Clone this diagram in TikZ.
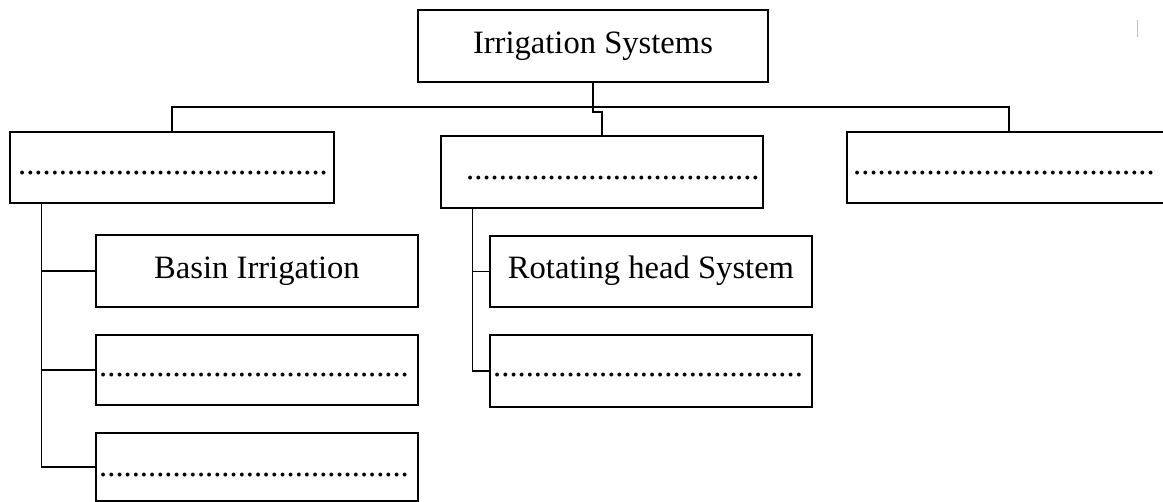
\documentclass[tikz,border=0pt]{standalone}
\usepackage{fontspec}
\setmainfont{Liberation Serif}
\newcommand\dotrow[1]{\foreach \i in {1,...,#1}{.}}
\begin{document}
\begin{tikzpicture}[x=1pt,y=-1pt,
  box/.style={draw, line width=1.8pt, inner sep=0pt,
    font=\fontsize{32.6}{39}\selectfont, text height=22.8pt, text depth=8.2pt},
  conn/.style={line width=1.2pt},
  dotline/.style={anchor=base west, inner sep=0pt, font=\fontsize{32.6}{39}\selectfont}]
\useasboundingbox (0,0) rectangle (1163,502);
\clip (0,0) rectangle (1163,502);
% boxes
\node[box, minimum width=350pt, minimum height=72pt] (T)  at (593,46)    {Irrigation Systems};
\node[box, minimum width=324pt, minimum height=71pt] (L)  at (172,167.5) {};
\node[box, minimum width=322pt, minimum height=72pt] (M)  at (602,172)   {};
\node[box, minimum width=324pt, minimum height=71pt] (R)  at (1009,167.5) {};
\node[box, minimum width=322pt, minimum height=72pt] (L1) at (257,271)   {Basin Irrigation};
\node[box, minimum width=322pt, minimum height=70pt] (L2) at (257,370)   {};
\node[box, minimum width=322pt, minimum height=68pt] (L3) at (257,467)   {};
\node[box, minimum width=322pt, minimum height=71pt] (M1) at (651,271.5) {Rotating head System};
\node[box, minimum width=322pt, minimum height=72pt] (M2) at (651,371)   {};
% dotted placeholders
\node[dotline] (Ld)  at (18,174.5)  {\dotrow{38}};
\node[dotline] (Md)  at (466,179.5) {\dotrow{36}};
\node[dotline] (Rd)  at (853,175)   {\dotrow{37}};
\node[dotline] (L2d) at (99,376.5)  {\dotrow{38}};
\node[dotline] (L3d) at (99,476.5)  {\dotrow{38}};
\node[dotline] (M2d) at (493,376.5) {\dotrow{38}};
% connectors
\coordinate (bar) at (0,107);
\draw[conn] (L.north) -- (L.north |- bar) -- (R.north |- bar) -- (R.north);
\draw[conn] (T.south) -- (T.south |- bar) -- ++(0,5) -| (M.north);
\coordinate (ls) at ([xshift=32pt]L.south west);
\draw[conn] (ls) -- (ls |- L3.west) -- (L3.west);
\draw[conn] (ls |- L1.west) -- (L1.west);
\draw[conn] (ls |- L2.west) -- (L2.west);
\coordinate (ms) at ([xshift=32pt]M.south west);
\draw[conn] (ms) -- (ms |- M2.west) -- (M2.west);
\draw[conn] (ms |- M1.west) -- (M1.west);
% faint scan mark
\draw[gray!50, line width=0.6pt] (1137,20) -- (1137,37);
\end{tikzpicture}
\end{document}
